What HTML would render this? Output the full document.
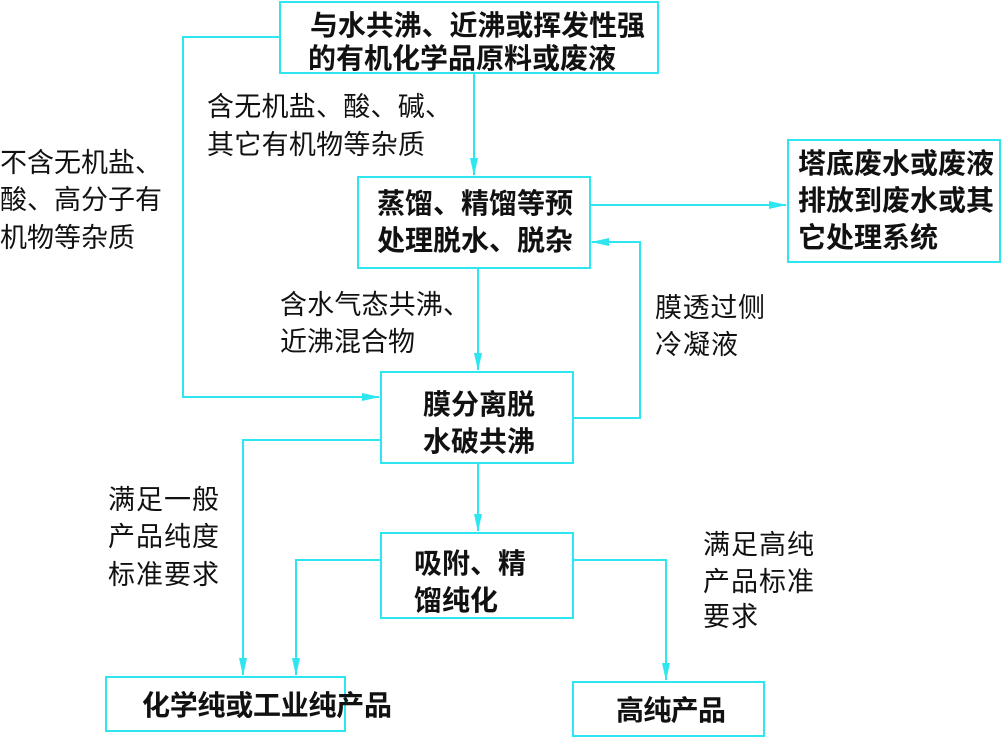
<!DOCTYPE html>
<html><head><meta charset="utf-8"><style>
body{margin:0;background:#fff}
svg{display:block}
text{font-family:"Liberation Sans","Noto Sans CJK SC",sans-serif;fill:#111}
.b{font-size:28px;font-weight:bold}
.l{font-size:27px}
</style></head><body>
<svg width="1004" height="738" viewBox="0 0 1004 738" xmlns="http://www.w3.org/2000/svg">
<defs><marker id="a" markerWidth="18" markerHeight="10" refX="17" refY="5" orient="auto" markerUnits="userSpaceOnUse"><path d="M0,1 L18,5 L0,9 Z" fill="#2ee6f0"/></marker></defs>
<g fill="none" stroke="#2ee6f0" stroke-width="2">
<rect x="280" y="2" width="378" height="71"/>
<rect x="358" y="177" width="232" height="91"/>
<rect x="788" y="140" width="212" height="122"/>
<rect x="381" y="372" width="192" height="91"/>
<rect x="381" y="533" width="192" height="85"/>
<rect x="106" y="677" width="239" height="54"/>
<rect x="573" y="682" width="191" height="54"/>
<polyline points="280,37 183,37 183,397 379,397" marker-end="url(#a)"/>
<line x1="474" y1="73" x2="474" y2="175" marker-end="url(#a)"/>
<line x1="590" y1="205" x2="786" y2="205" marker-end="url(#a)"/>
<polyline points="573,418 640,418 640,242 592,242" marker-end="url(#a)"/>
<line x1="478" y1="268" x2="478" y2="370" marker-end="url(#a)"/>
<polyline points="381,440 243,440 243,675" marker-end="url(#a)"/>
<line x1="478" y1="463" x2="478" y2="531" marker-end="url(#a)"/>
<polyline points="381,560 296,560 296,675" marker-end="url(#a)"/>
<polyline points="573,560 666,560 666,680" marker-end="url(#a)"/>
</g>
<text class="b" x="310" y="35" textLength="335">与水共沸、近沸或挥发性强</text>
<text class="b" x="308" y="68" textLength="308">的有机化学品原料或废液</text>
<text class="b" x="377" y="213" textLength="196">蒸馏、精馏等预</text>
<text class="b" x="377" y="250" textLength="196">处理脱水、脱杂</text>
<text class="b" x="798" y="173" textLength="196">塔底废水或废液</text>
<text class="b" x="798" y="210" textLength="196">排放到废水或其</text>
<text class="b" x="798" y="247" textLength="140">它处理系统</text>
<text class="b" x="423" y="414" textLength="112">膜分离脱</text>
<text class="b" x="423" y="451" textLength="112">水破共沸</text>
<text class="b" x="414" y="573" textLength="112">吸附、精</text>
<text class="b" x="414" y="610" textLength="84">馏纯化</text>
<text class="b" x="142" y="715" textLength="250">化学纯或工业纯产品</text>
<text class="b" x="616" y="720" textLength="110">高纯产品</text>
<text class="l" x="207" y="116" textLength="245">含无机盐、酸、碱、</text>
<text class="l" x="207" y="154" textLength="218">其它有机物等杂质</text>
<text class="l" x="0" y="172" textLength="162">不含无机盐、</text>
<text class="l" x="0" y="209" textLength="162">酸、高分子有</text>
<text class="l" x="0" y="247" textLength="135">机物等杂质</text>
<text class="l" x="280" y="314" textLength="190">含水气态共沸、</text>
<text class="l" x="280" y="351" textLength="135">近沸混合物</text>
<text class="l" x="655" y="317" textLength="110">膜透过侧</text>
<text class="l" x="655" y="354" textLength="83">冷凝液</text>
<text class="l" x="108" y="509" textLength="111">满足一般</text>
<text class="l" x="108" y="546" textLength="111">产品纯度</text>
<text class="l" x="108" y="584" textLength="111">标准要求</text>
<text class="l" x="703" y="554" textLength="111">满足高纯</text>
<text class="l" x="703" y="591" textLength="111">产品标准</text>
<text class="l" x="703" y="626" textLength="55">要求</text>
</svg>
</body></html>
